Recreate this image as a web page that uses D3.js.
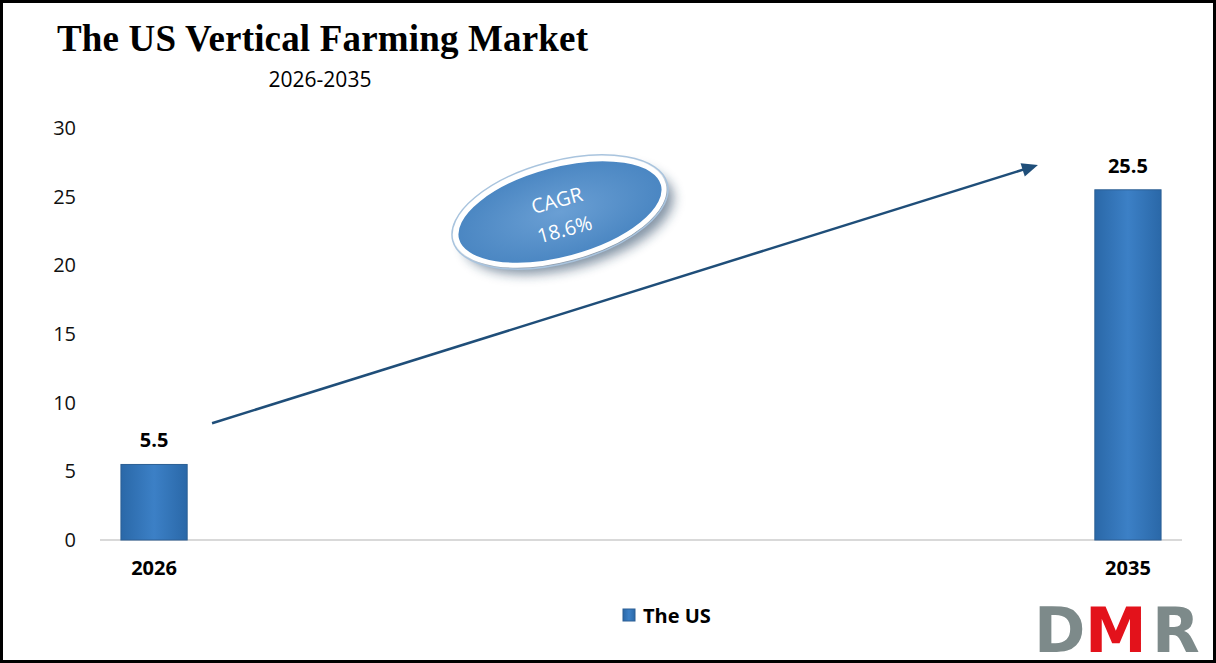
<!DOCTYPE html>
<html><head><meta charset="utf-8">
<script src="https://cdn.jsdelivr.net/npm/d3@7"></script>
<style>body{margin:0;background:#fff}svg{display:block}</style>
</head><body><div id="chart"></div>
<script>
const categories = ["2026", "2035"];
const values = [5.5, 25.5];
const yTicks = [0, 5, 10, 15, 20, 25, 30];
const seriesName = "The US";
const cagrText = ["CAGR", "18.6%"];

const W = 1216, H = 663;
const svg = d3.select("#chart").append("svg").attr("width", W).attr("height", H);
const defs = svg.append("defs");
const bg = defs.append("linearGradient").attr("id", "bar").attr("x1", 0).attr("x2", 1);
bg.append("stop").attr("offset", 0).attr("stop-color", "#2a68a8");
bg.append("stop").attr("offset", 0.5).attr("stop-color", "#3c80c6");
bg.append("stop").attr("offset", 1).attr("stop-color", "#2a68a8");
const eg = defs.append("radialGradient").attr("id", "ell");
eg.append("stop").attr("offset", 0).attr("stop-color", "#6a9fd4");
eg.append("stop").attr("offset", 1).attr("stop-color", "#4a86c2");
const sh = defs.append("filter").attr("id", "sh").attr("x", "-30%").attr("y", "-50%").attr("width", "160%").attr("height", "200%");
sh.append("feGaussianBlur").attr("stdDeviation", 6);

svg.append("rect").attr("x", 1.5).attr("y", 1.5).attr("width", W - 3).attr("height", H - 3)
  .attr("fill", "#fff").attr("stroke", "#000").attr("stroke-width", 3);

const x = d3.scaleBand().domain(categories).range([100, 1182]).paddingInner(0.932).paddingOuter(0.0215);
const y = d3.scaleLinear().domain([0, 30]).range([540, 128]);

svg.append("text").attr("x", 57).attr("y", 51).attr("font-family", "Liberation Serif, serif")
  .attr("font-weight", "bold").attr("font-size", 37).attr("textLength", 531).text("The US Vertical Farming Market");
svg.append("text").attr("x", 320).attr("y", 87).attr("text-anchor", "middle")
  .attr("font-family", "Open Sans, sans-serif").attr("font-size", 21).text("2026-2035");

// y axis
const ya = svg.append("g").attr("transform", "translate(78,0)")
  .call(d3.axisLeft(y).tickValues(yTicks).tickSize(0).tickPadding(2));
ya.select(".domain").remove();
ya.selectAll("text").attr("font-family", "Open Sans, sans-serif").attr("font-size", 20).attr("fill", "#111");

svg.append("line").attr("x1", 100).attr("x2", 1182).attr("y1", y(0)).attr("y2", y(0))
  .attr("stroke", "#d9d9d9").attr("stroke-width", 2);

// x axis labels
const xa = svg.append("g").attr("transform", `translate(0,${y(0) + 18})`)
  .call(d3.axisBottom(x).tickSize(0));
xa.select(".domain").remove();
xa.selectAll("text").attr("font-family", "Open Sans, sans-serif").attr("font-weight", "bold")
  .attr("font-size", 20).attr("fill", "#000");

svg.selectAll("rect.bar").data(values).join("rect").attr("class", "bar")
  .attr("x", (d, i) => x(categories[i])).attr("width", x.bandwidth())
  .attr("y", d => y(d)).attr("height", d => y(0) - y(d))
  .attr("fill", "url(#bar)").attr("stroke", "#2c5f94").attr("stroke-width", 1);

svg.selectAll("text.val").data(values).join("text").attr("class", "val")
  .attr("x", (d, i) => x(categories[i]) + x.bandwidth() / 2).attr("y", d => y(d) - 17)
  .attr("text-anchor", "middle").attr("font-family", "Open Sans, sans-serif")
  .attr("font-weight", "bold").attr("font-size", 20).text(d => d);

// arrow
const ax1 = x(categories[0]) + x.bandwidth() / 2 + 58, ay1 = y(8.5);
const ax2 = x(categories[1]) + x.bandwidth() / 2 - 90, ay2 = y(27.3);
svg.append("line").attr("x1", ax1).attr("y1", ay1).attr("x2", ax2 - 10).attr("y2", ay2 + 3)
  .attr("stroke", "#1f4e79").attr("stroke-width", 2.5);
const ang = Math.atan2(ay2 - ay1, ax2 - ax1) * 180 / Math.PI;
svg.append("path").attr("d", "M0,0 L-16,-7 L-16,7 Z").attr("fill", "#1f4e79")
  .attr("transform", `translate(${ax2},${ay2}) rotate(${ang})`);

// CAGR ellipse
const eG = svg.append("g").attr("transform", "translate(560,212) rotate(-15)");
eG.append("ellipse").attr("cx", 6).attr("cy", 10).attr("rx", 108).attr("ry", 48).attr("fill", "#1d3b5a").attr("opacity", 0.55).attr("filter", "url(#sh)");
eG.append("ellipse").attr("rx", 107).attr("ry", 47).attr("fill", "url(#ell)").attr("stroke", "#fff").attr("stroke-width", 5);
eG.append("ellipse").attr("rx", 111).attr("ry", 51).attr("fill", "none").attr("stroke", "#a9c4de").attr("stroke-width", 1.5);
eG.selectAll("text").data(cagrText).join("text").attr("x", 0).attr("y", (d, i) => -5 + i * 30)
  .attr("text-anchor", "middle").attr("font-family", "Open Sans, sans-serif").attr("font-size", 20)
  .attr("fill", "#fff").text(d => d);

// legend
svg.append("rect").attr("x", 623).attr("y", 609).attr("width", 12).attr("height", 12).attr("fill", "url(#bar)").attr("stroke", "#2c5f94");
svg.append("text").attr("x", 643).attr("y", 623).attr("font-family", "Open Sans, sans-serif")
  .attr("font-weight", "bold").attr("font-size", 20).text(seriesName);

// logo
const lg = svg.append("g").attr("font-family", "DejaVu Sans, sans-serif").attr("font-weight", "bold").attr("font-size", 62);
lg.append("text").attr("x", 1034).attr("y", 652).attr("fill", "#7d8a8a").text("D");
lg.append("text").attr("x", 1085).attr("y", 652).attr("fill", "#e3121b").text("M");
lg.append("text").attr("x", 1152).attr("y", 652).attr("fill", "#7d8a8a").text("R");
</script></body></html>
